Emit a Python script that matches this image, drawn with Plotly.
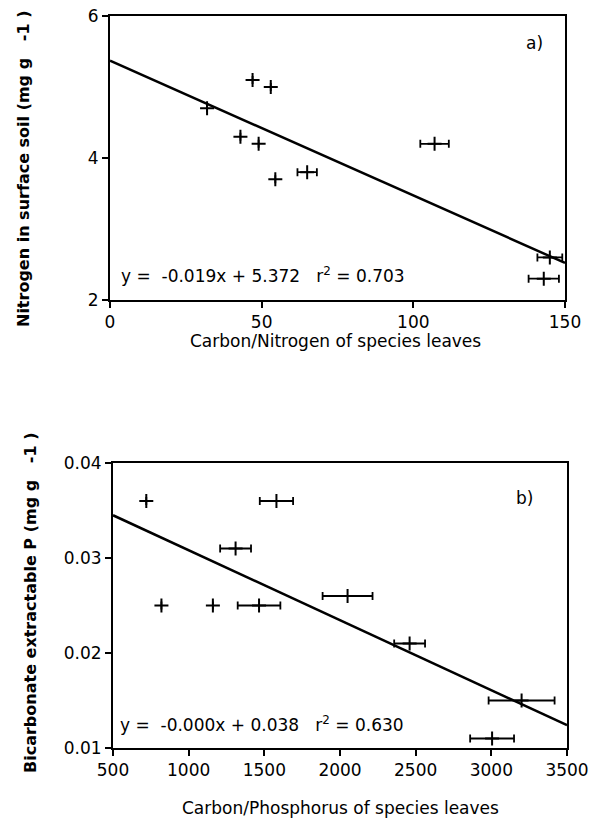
import plotly.graph_objects as go

# Panel a data
a_x = [32, 47, 53, 43, 49, 54.5, 65, 107, 145, 143]
a_y = [4.7, 5.1, 5.0, 4.3, 4.2, 3.7, 3.8, 4.2, 2.6, 2.3]
a_xerr = [0, 0, 0, 0, 0, 0, 3.2, 4.7, 4.1, 5.0]
a_fit_x = [0, 150]
a_fit_y = [5.372, 2.522]

# Panel b data
b_x = [720, 1580, 1310, 820, 1160, 1465, 2050, 2460, 3200, 3005]
b_y = [0.036, 0.036, 0.031, 0.025, 0.025, 0.025, 0.026, 0.021, 0.015, 0.011]
b_xerr = [0, 110, 102, 0, 0, 141, 165, 102, 218, 145]
b_fit_x = [500, 3500]
b_fit_y = [0.0345, 0.0124]

FONT = "DejaVu Sans"
fig = go.Figure()

def add_panel(xs, ys, errs, fx, fy, xa, ya):
    fig.add_trace(go.Scatter(x=fx, y=fy, mode="lines", line=dict(color="black", width=2.5),
                             xaxis=xa, yaxis=ya, showlegend=False, hoverinfo="skip"))
    fig.add_trace(go.Scatter(x=xs, y=ys, mode="markers",
                             marker=dict(symbol="cross-thin", size=10, line=dict(color="black", width=2)),
                             error_x=dict(type="data", array=errs, visible=True, color="black",
                                          thickness=1.8, width=4),
                             xaxis=xa, yaxis=ya, showlegend=False))

add_panel(a_x, a_y, a_xerr, a_fit_x, a_fit_y, "x", "y")
add_panel(b_x, b_y, b_xerr, b_fit_x, b_fit_y, "x2", "y2")

ax_common = dict(showline=True, linecolor="black", linewidth=2, mirror=True, ticks="outside",
                 ticklen=6, tickwidth=1.5, tickcolor="black", showgrid=False, zeroline=False,
                 automargin=False, tickfont=dict(family=FONT, size=17, color="black"))

fig.update_layout(
    template="none",
    width=604, height=830, margin=dict(l=0, r=0, t=0, b=0, pad=0),
    paper_bgcolor="white", plot_bgcolor="white",
    xaxis=dict(domain=[110/604, 565/604], range=[0, 150], tickvals=[0, 50, 100, 150],
               anchor="y", **ax_common),
    yaxis=dict(domain=[1-300/830, 1-16/830], range=[2, 6], tickvals=[2, 4, 6],
               anchor="x", **ax_common),
    xaxis2=dict(domain=[113/604, 567/604], range=[500, 3500],
                tickvals=[500, 1000, 1500, 2000, 2500, 3000, 3500], anchor="y2", **ax_common),
    yaxis2=dict(domain=[1-748/830, 1-463/830], range=[0.01, 0.04],
                tickvals=[0.01, 0.02, 0.03, 0.04], ticktext=["0.01", "0.02", "0.03", "0.04"],
                anchor="x2", **ax_common),
)

tf = dict(family=FONT, size=17, color="black")
yf = dict(family=FONT, size=16, color="black", weight="bold")
ann = [
    dict(text="a)", x=140, y=5.62, xref="x", yref="y", showarrow=False, font=tf),
    dict(text="y =  -0.019x + 5.372   r<sup>2</sup> = 0.703", x=3, y=2.35, xref="x", yref="y",
         xanchor="left", showarrow=False, font=tf),
    dict(text="b)", x=3220, y=0.0363, xref="x2", yref="y2", showarrow=False, font=tf),
    dict(text="y =  -0.000x + 0.038   r<sup>2</sup> = 0.630", x=530, y=0.0125, xref="x2", yref="y2",
         xanchor="left", showarrow=False, font=tf),
    dict(text="Carbon/Nitrogen of species leaves", x=335/604, y=1-341/830, xref="paper", yref="paper",
         showarrow=False, font=tf),
    dict(text="Carbon/Phosphorus of species leaves", x=340/604, y=1-820/830, xref="paper", yref="paper",
         showarrow=False, font=tf),
    dict(text="Nitrogen in surface soil (mg g   -1 )", x=24/604, y=1-169/830, xref="paper", yref="paper",
         xanchor="center", yanchor="middle", showarrow=False, textangle=-90, font=yf),
    dict(text="Bicarbonate extractable P (mg g   -1 )", x=30/604, y=1-603/830, xref="paper", yref="paper",
         xanchor="center", yanchor="middle", showarrow=False, textangle=-90, font=yf),
]
fig.update_layout(annotations=ann)

fig.write_html("out.html")
